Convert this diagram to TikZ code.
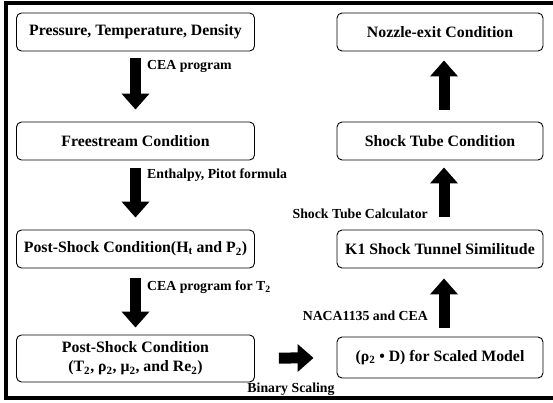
\documentclass[tikz,border=0pt]{standalone}
\usepackage{fontspec}
\setmainfont{Liberation Serif}
\usetikzlibrary{arrows.meta}

\begin{document}
\begin{tikzpicture}[x=1pt,y=-1pt,
		box/.style={draw,rounded corners=5pt,line width=0.9pt,minimum height=38pt,inner sep=0pt,align=center,font=\bfseries\fontsize{15.8}{19}\selectfont},
		lbox/.style={box,minimum width=238pt},
		rbox/.style={box,minimum width=206pt},
		bigarrow/.style={line width=11pt,-{Triangle[length=16pt,width=27pt]}},
		lbl/.style={inner sep=0pt,font=\bfseries\fontsize{13.8}{16}\selectfont}]
		\useasboundingbox (0,0) rectangle (553,402);
		%frame, open on the right
		\draw[line width=3.5pt] (553,3) -- (6,3) -- (6,398) -- (553,398);
		
		\node[lbox] (pres) at (135.5,32) {Pressure, Temperature, Density};
		\node[lbox] (free) at (135.5,141) {Freestream Condition};
		\node[lbox] (post1) at (135.5,249) {Post-Shock Condition(H\textsubscript{t} and P\textsubscript{2})};
		\node[lbox,minimum height=47pt] (post2) at (135.5,358.5) {Post-Shock Condition\\(T\textsubscript{2}, ρ\textsubscript{2}, μ\textsubscript{2}, and Re\textsubscript{2})};
		
		\node[rbox] (nozzle) at (440,32) {Nozzle-exit Condition};
		\node[rbox] (tube) at (440,141) {Shock Tube Condition};
		\node[rbox] (k1) at (440,249) {K1 Shock Tunnel Similitude};
		\node[rbox,minimum height=41pt] (rho) at (440,357.5) {(ρ\textsubscript{2} • D) for Scaled Model};
		
		%down the left column
		\foreach \a/\b/\s/\e in {pres/free/7/12,free/post1/8/12,post1/post2/10/7}{
			\draw[bigarrow,shorten <=\s pt,shorten >=\e pt] (\a) -- (\b);
		}
		%up the right column
		\foreach \a/\b/\s/\e in {rho/k1/9/10,k1/tube/13/7,tube/nozzle/12/9}{
			\draw[bigarrow,shorten <=\s pt,shorten >=\e pt] ([xshift=4pt]\a.north) -- ([xshift=4pt]\b.south);
		}
		\draw[bigarrow,shorten <=24pt,shorten >=23pt] (post2) -- (rho);
		
		\node[lbl,anchor=west] (cea) at (147,66) {CEA program};
		\node[lbl,anchor=west] (pitot) at (147,175) {Enthalpy, Pitot formula};
		\node[lbl,anchor=west] (ceat) at (147,287) {CEA program for T\textsubscript{2}};
		\node[lbl,anchor=east] (calc) at (428,214) {Shock Tube Calculator};
		\node[lbl,anchor=east] (naca) at (428,316) {NACA1135 and CEA};
		\node[lbl] (scaling) at (291,389) {Binary Scaling};
\end{tikzpicture}
\end{document}
